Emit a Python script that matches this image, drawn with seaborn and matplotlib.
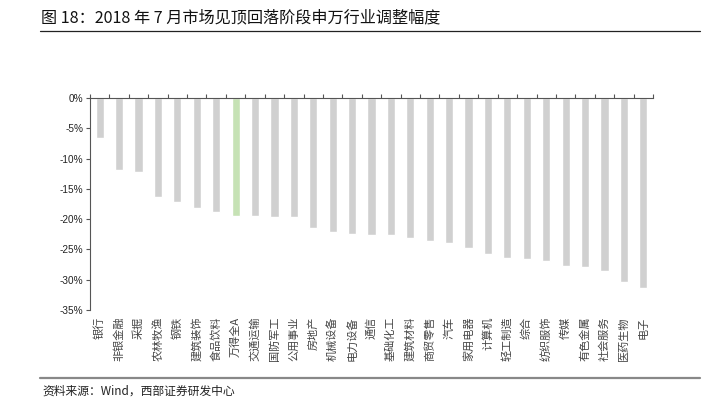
import matplotlib
matplotlib.use("Agg")
import matplotlib.pyplot as plt
import seaborn as sns
import numpy as np
import pandas as pd

# data (%)
industries = ["银行", "非银金融", "采掘", "农林牧渔", "钢铁", "建筑装饰", "食品饮料",
              "万得全A", "交通运输", "国防军工", "公用事业", "房地产", "机械设备",
              "电力设备", "通信", "基础化工", "建筑材料", "商贸零售", "汽车",
              "家用电器", "计算机", "轻工制造", "综合", "纺织服饰", "传媒",
              "有色金属", "社会服务", "医药生物", "电子"]
change_pct = [-6.6, -11.85, -12.2, -16.4, -17.25, -18.1, -18.9,
              -19.4, -19.5, -19.6, -19.7, -21.4, -22.2,
              -22.4, -22.6, -22.6, -23.1, -23.6, -24.0,
              -24.75, -25.7, -26.35, -26.6, -26.95, -27.7,
              -27.9, -28.6, -30.3, -31.3]
y_ticks = [0, -5, -10, -15, -20, -25, -30, -35]

sns.set_theme(style="white")
plt.rcParams["font.family"] = ["Liberation Sans", "Noto Sans CJK SC", "DejaVu Sans"]

df = pd.DataFrame({"industry": industries, "change": change_pct})
colors = {name: ("#C6E2B5" if name == "万得全A" else "#D0D0D0") for name in industries}

fig = plt.figure(figsize=(7.1, 4.03), dpi=100)
ax = fig.add_axes([90 / 710, 1 - 310 / 403, (653 - 90) / 710, (310 - 98) / 403])

sns.barplot(data=df, x="industry", y="change", hue="industry", palette=colors,
            legend=False, width=0.42, ax=ax, saturation=1)

ax.set_ylim(-35, 0)
ax.set_xlim(-0.5, len(industries) - 0.5)
ax.set_yticks(y_ticks)
ax.set_yticklabels([f"{t}%" for t in y_ticks], fontsize=7.2, color="#222222")
ax.set_xlabel("")
ax.set_ylabel("")

# category labels hanging below, rotated
ax.set_xticks(range(len(industries)))
ax.set_xticklabels(industries, rotation=90, fontsize=8, va="top", ha="center",
                   family=["Noto Sans CJK SC", "DejaVu Sans"], color="#444444")
ax.tick_params(axis="x", which="major", length=0, pad=5)
ax.set_xticks(np.arange(-0.5, len(industries), 1), minor=True)
ax.tick_params(axis="x", which="minor", top=True, bottom=False, direction="out",
               length=3, color="#555555", width=0.8)
ax.tick_params(axis="y", left=True, direction="out", length=3, color="#555555",
               width=0.8, pad=2)

for side in ["right", "bottom"]:
    ax.spines[side].set_visible(False)
for side in ["left", "top"]:
    ax.spines[side].set_color("#555555")
    ax.spines[side].set_linewidth(0.8)

# title, rules and source
fig.text(41 / 710, 1 - 18 / 403, "图 18：2018 年 7 月市场见顶回落阶段申万行业调整幅度",
         fontsize=11.6, va="center", ha="left",
         family=["Noto Sans CJK SC", "DejaVu Sans"], color="#111111")
fig.add_artist(plt.Line2D([40 / 710, 700 / 710], [1 - 31 / 403] * 2,
                          color="#222222", linewidth=0.9))
fig.add_artist(plt.Line2D([40 / 710, 700 / 710], [1 - 378 / 403] * 2,
                          color="#888888", linewidth=1.6))
fig.text(42 / 710, 1 - 391 / 403, "资料来源：Wind，西部证券研发中心",
         fontsize=8.5, va="center", ha="left",
         family=["Noto Sans CJK SC", "DejaVu Sans"], color="#222222")

fig.savefig("out.png", dpi=100)
